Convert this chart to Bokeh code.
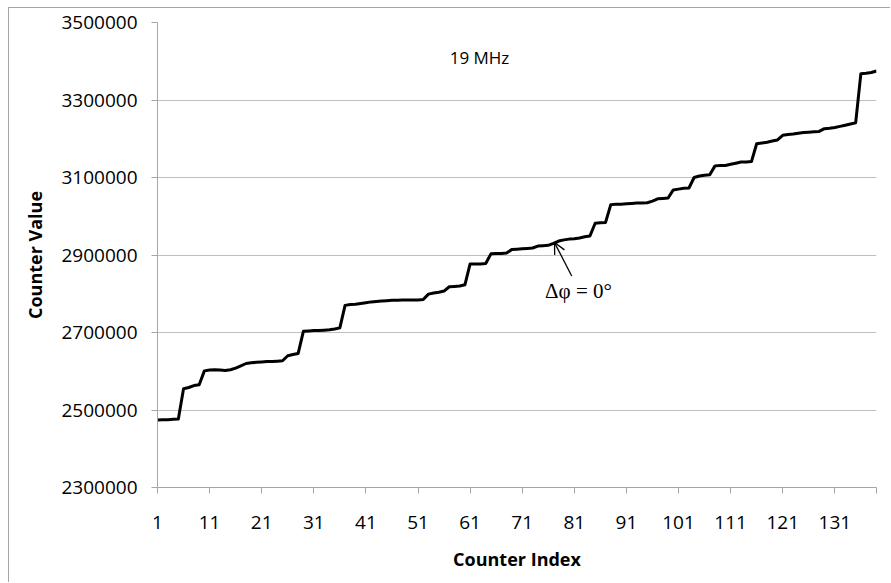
from bokeh.plotting import figure
from bokeh.models import FixedTicker, PrintfTickFormatter, Arrow, OpenHead, Label
from bokeh.embed import file_html
from bokeh.resources import INLINE

counter_value = [
    2474000, 2475000, 2475000, 2476000, 2477000, 2555000, 2558000, 2563000, 2565000, 2601000,
    2603000, 2604000, 2603000, 2602000, 2604000, 2608000, 2614000, 2620000, 2622000, 2623000,
    2624000, 2625000, 2625000, 2626000, 2627000, 2640000, 2643000, 2646000, 2703000, 2704000,
    2705000, 2705000, 2706000, 2707000, 2709000, 2712000, 2770000, 2772000, 2773000, 2775000,
    2777000, 2779000, 2780000, 2781000, 2782000, 2783000, 2783000, 2784000, 2784000, 2784000,
    2784000, 2785000, 2799000, 2802000, 2804000, 2807000, 2818000, 2819000, 2820000, 2823000,
    2877000, 2877000, 2877000, 2878000, 2903000, 2904000, 2904000, 2905000, 2914000, 2915000,
    2916000, 2917000, 2918000, 2923000, 2924000, 2925000, 2930000, 2936000, 2939000, 2941000,
    2942000, 2944000, 2947000, 2949000, 2982000, 2983000, 2984000, 3030000, 3031000, 3031000,
    3032000, 3033000, 3034000, 3034000, 3035000, 3039000, 3045000, 3046000, 3047000, 3068000,
    3070000, 3072000, 3073000, 3100000, 3104000, 3106000, 3107000, 3130000, 3131000, 3131000,
    3134000, 3137000, 3140000, 3140000, 3141000, 3187000, 3189000, 3191000, 3194000, 3197000,
    3209000, 3211000, 3212000, 3214000, 3216000, 3217000, 3218000, 3219000, 3226000, 3227000,
    3229000, 3232000, 3235000, 3238000, 3241000, 3368000, 3369000, 3371000, 3375000,
]
counter_index = list(range(1, len(counter_value) + 1))

x_tick_labels = [1, 11, 21, 31, 41, 51, 61, 71, 81, 91, 101, 111, 121, 131]
y_ticks = [2300000, 2500000, 2700000, 2900000, 3100000, 3300000, 3500000]

annotation_index = 77
chart_title = "19 MHz"
annotation_text = "Δφ = 0°"

SANS = "Open Sans"
GRID = "#bfbfbf"
AXIS = "#a6a6a6"

p = figure(
    width=882, height=575,
    x_range=(1, len(counter_value)), y_range=(y_ticks[0], y_ticks[-1]),
    output_backend="svg", toolbar_location=None,
    min_border_left=148, min_border_right=15, min_border_top=14, min_border_bottom=96,
)
p.styles = {"margin-left": "8px", "margin-top": "7px",
            "border-left": "1px solid #a6a6a6", "border-top": "1px solid #a6a6a6"}
p.outline_line_color = None
p.background_fill_color = "white"
p.border_fill_color = "white"

p.line(counter_index, counter_value, line_color="black", line_width=3, line_join="round")

# x axis
p.xaxis.ticker = FixedTicker(ticks=x_tick_labels + [len(counter_value)])
p.xaxis.major_label_overrides = {len(counter_value): ""}
p.xaxis.axis_label = "Counter Index"
# y axis
p.yaxis.ticker = FixedTicker(ticks=y_ticks)
p.yaxis.formatter = PrintfTickFormatter(format="%d")
p.yaxis.axis_label = "Counter Value"

for ax in (p.xaxis[0], p.yaxis[0]):
    ax.axis_line_color = AXIS
    ax.major_tick_line_color = AXIS
    ax.major_tick_in = 0
    ax.major_tick_out = 6
    ax.minor_tick_line_color = None
    ax.major_label_text_font = SANS
    ax.major_label_text_font_size = "19px"
    ax.major_label_text_color = "black"
    ax.axis_label_text_font = SANS
    ax.axis_label_text_font_size = "18px"
    ax.axis_label_text_font_style = "bold"
    ax.axis_label_text_color = "black"

p.xaxis.major_label_standoff = 22
p.xaxis.axis_label_standoff = 15
p.yaxis.major_label_standoff = 14
p.yaxis.axis_label_standoff = 11

p.xgrid.visible = False
p.ygrid.grid_line_color = GRID
p.ygrid.grid_line_width = 1

p.add_layout(Label(x=62.8, y=3410000, text=chart_title, text_align="center",
                   text_baseline="middle", text_font=SANS, text_font_size="17px",
                   text_color="black"))

tip_y = counter_value[annotation_index - 1]
p.add_layout(Arrow(end=OpenHead(size=11, line_width=1.3, line_color="black"),
                   x_start=80.5, y_start=tip_y - 84000,
                   x_end=annotation_index + 0.2, y_end=tip_y + 2000,
                   line_width=1.3, line_color="black"))
p.add_layout(Label(x=81.8, y=2808000, text=annotation_text, text_align="center",
                   text_baseline="middle", text_font="Liberation Serif",
                   text_font_size="21px", text_color="black"))

open("out.html", "w").write(file_html(p, INLINE))
